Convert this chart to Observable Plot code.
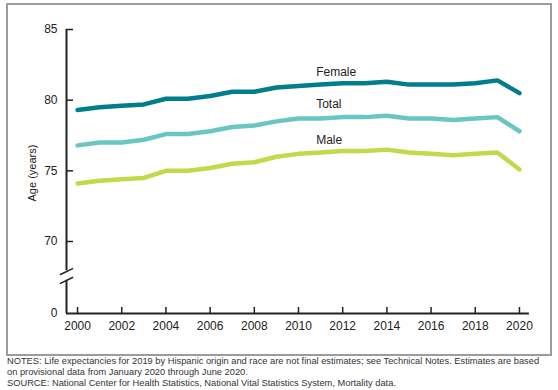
<!DOCTYPE html>
<html>
<head>
<meta charset="utf-8">
<script src="https://cdn.jsdelivr.net/npm/d3@7"></script>
<script src="https://cdn.jsdelivr.net/npm/@observablehq/plot@0.6"></script>
<style>
  html, body { margin: 0; padding: 0; background: #fff; }
  body { width: 558px; height: 390px; position: relative; overflow: hidden; font-family: "Liberation Sans", Arial, sans-serif; }
  #box { position: absolute; left: 6px; top: 3px; width: 546px; height: 353px; border: 2px solid #9c9c9c; box-sizing: border-box; }
  #chart { position: absolute; left: 0; top: 0; }
  #notes { position: absolute; left: 7px; top: 356px; font-size: 9.3px; line-height: 10.8px; color: #333; white-space: nowrap; }
</style>
</head>
<body>
<div id="box"></div>
<div id="chart"></div>
<div id="notes">
  <div>NOTES: Life expectancies for 2019 by Hispanic origin and race are not final estimates; see Technical Notes. Estimates are based</div>
  <div>on provisional data from January 2020 through June 2020.</div>
  <div>SOURCE: National Center for Health Statistics, National Vital Statistics System, Mortality data.</div>
</div>
<script>
const years  = [2000,2001,2002,2003,2004,2005,2006,2007,2008,2009,2010,2011,2012,2013,2014,2015,2016,2017,2018,2019,2020];
const female = [79.3,79.5,79.6,79.7,80.1,80.1,80.3,80.6,80.6,80.9,81.0,81.1,81.2,81.2,81.3,81.1,81.1,81.1,81.2,81.4,80.5];
const total  = [76.8,77.0,77.0,77.2,77.6,77.6,77.8,78.1,78.2,78.5,78.7,78.7,78.8,78.8,78.9,78.7,78.7,78.6,78.7,78.8,77.8];
const male   = [74.1,74.3,74.4,74.5,75.0,75.0,75.2,75.5,75.6,76.0,76.2,76.3,76.4,76.4,76.5,76.3,76.2,76.1,76.2,76.3,75.1];
const seriesNames = ["Female", "Total", "Male"];
const seriesColors = ["#007e8c", "#68c7c3", "#c3d84a"];
const xTicks = [2000,2002,2004,2006,2008,2010,2012,2014,2016,2018,2020];
const yTicks = [70,75,80,85];
const yBaseTick = [0];
const labelYear = 2010.8;
const labelAges = [81.96, 79.7, 77.15];

const data = [];
[female, total, male].forEach((arr, i) => arr.forEach((v, j) => data.push({series: seriesNames[i], year: years[j], value: v})));
const labels = seriesNames.map((s, i) => ({series: s, year: labelYear, value: labelAges[i]}));

// broken y axis: values below 70 are compressed into a short stub ending at 0
const breakAt = 70;
const stubShare = 5.095 / 70;
const yBreak = v => v >= breakAt ? v : breakAt - (breakAt - v) * stubShare;

const xMin = 1999.5, xMax = 2020.45;
const breaks = [
  {x1: 1999.2, y1: 37.7, x2: 1999.8, y2: 43.9},
  {x1: 1999.2, y1: 29.0, x2: 1999.8, y2: 35.2}
];
const yAxisSegments = [{y1: 41.5, y2: 85}, {y1: 0, y2: 32.3}];

const font = "Liberation Sans, Arial, sans-serif";
const chart = Plot.plot({
  width: 558,
  height: 350,
  marginLeft: 66,
  marginRight: 28,
  marginTop: 29,
  marginBottom: 37,
  style: {fontFamily: font, fontSize: "12px", color: "#222", background: "transparent"},
  x: {domain: [1999.5, 2020.5]},
  y: {transform: yBreak, nice: false, zero: false},
  color: {domain: seriesNames, range: seriesColors},
  marks: [
    Plot.axisY({ticks: yTicks, tickSize: -7, tickPadding: 16, tickFormat: d => String(d), label: null, stroke: "#222", strokeWidth: 1.5, fill: "#222", fontSize: 12}),
    Plot.text(yBaseTick, {y: d => d, frameAnchor: "left", dx: -9, textAnchor: "end", text: d => String(d), fill: "#222", fontSize: 12}),
    Plot.axisX({ticks: xTicks, tickSize: -6, tickPadding: 13.5, tickFormat: d => String(d), label: null, stroke: "#222", strokeWidth: 1.5, fill: "#222", fontSize: 12}),
    Plot.ruleX(yAxisSegments, {x: xMin, y1: "y1", y2: "y2", stroke: "#222", strokeWidth: 2}),
    Plot.ruleY([0], {x1: xMin, x2: xMax, stroke: "#222", strokeWidth: 2}),
    Plot.link(breaks, {x1: "x1", y1: "y1", x2: "x2", y2: "y2", stroke: "#222", strokeWidth: 1.5}),
    Plot.line(data, {x: "year", y: "value", z: "series", stroke: "series", strokeWidth: 4.5, strokeLinejoin: "miter"}),
    Plot.text(labels, {x: "year", y: "value", text: "series", textAnchor: "start", fill: "#222", fontSize: 12}),
    Plot.text(["Age (years)"], {frameAnchor: "left", rotate: -90, dx: -34, dy: 30, text: d => d, fill: "#222", fontSize: 11})
  ]
});
document.getElementById("chart").appendChild(chart);
</script>
</body>
</html>
